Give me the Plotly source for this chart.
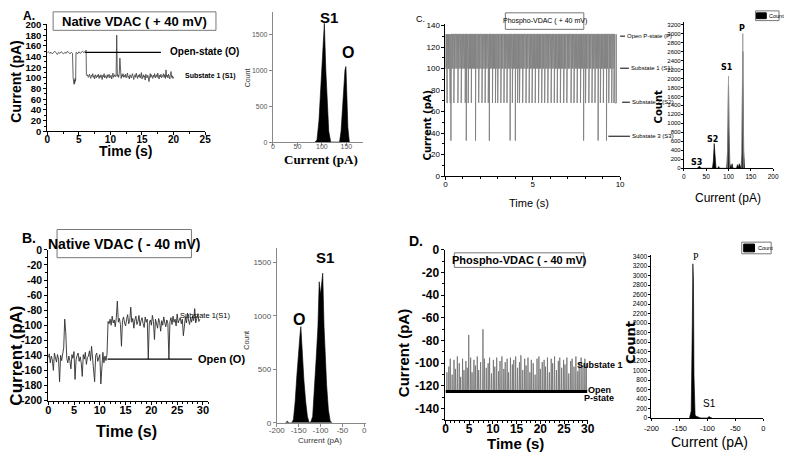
import plotly.graph_objects as go

W, H = 787, 458

# ---------------- Data ----------------
# Panel A: Native VDAC (+40 mV) current trace
A_time = [0.0,0.2,0.4,0.6,0.8,1.0,1.2,1.4,1.6,1.8,
          2.0,2.2,2.4,2.6,2.8,3.0,3.2,3.4,3.6,3.8,
          4.0,4.1,4.15,4.2,4.25,4.3,4.35,4.4,4.45,4.5,
          4.55,4.6,4.8,5.0,5.2,5.4,5.6,5.8,6.0,6.15,
          6.2,
          6.3,6.4,6.5,6.6,6.7,6.8,6.9,7.0,7.1,7.2,
          7.3,7.4,7.5,7.6,7.7,7.8,7.9,8.0,8.1,8.2,
          8.3,8.4,8.5,8.6,8.7,8.8,8.9,9.0,9.1,9.2,
          9.3,9.4,9.5,9.6,9.7,9.8,9.9,10.0,10.1,10.2,
          10.3,10.4,10.5,10.6,10.7,10.8,10.9,11.0,11.1,11.2,
          11.3,11.4,11.5,11.6,11.7,11.8,11.9,12.0,12.1,12.2,
          12.3,12.4,12.5,12.6,12.7,12.8,12.9,13.0,13.1,13.2,
          13.3,13.4,13.5,13.6,13.7,13.8,13.9,14.0,14.1,14.2,
          14.3,14.4,14.5,14.6,14.7,14.8,14.9,15.0,15.1,15.2,
          15.3,15.4,15.5,15.6,15.7,15.8,15.9,16.0,16.1,16.2,
          16.3,16.4,16.5,16.6,16.7,16.8,16.9,17.0,17.1,17.2,
          17.3,17.4,17.5,17.6,17.7,17.8,17.9,18.0,18.1,18.2,
          18.3,18.4,18.5,18.6,18.7,18.8,18.9,19.0,19.1,19.2,
          19.3,19.4,19.5,19.6,19.7,19.8,19.9,20.0]
A_current = [147,149,146,148,145,148,150,147,144,148,
             146,149,147,145,148,146,150,147,145,148,
             146,100,92,98,88,96,90,99,94,97,
             146,148,145,149,146,148,150,147,149,152,
             106,
             104,106,101,103,107,102,99,105,103,108,
             101,104,98,106,103,100,105,102,107,99,
             104,101,106,103,97,105,102,108,100,104,
             103,99,106,101,104,107,100,103,105,98,
             104,109,101,103,106,102,104,180,103,106,
             101,108,137,104,99,106,103,108,101,105,
             102,107,100,104,109,101,103,98,106,104,
             100,105,108,102,97,104,106,101,109,103,
             99,105,102,107,100,104,110,98,103,106,
             101,104,96,107,103,100,105,102,93,104,
             108,101,106,103,99,105,102,108,100,104,
             106,101,109,103,98,105,102,107,100,104,
             103,108,101,106,99,115,102,105,100,107,
             103,98,106,112,101,104,99,102]
A_open_level = 148

# Panel A histogram
A_hist_current = [86,90,94,98,101,103,105,108,111,114,118,136,139,142,145,147,149,151,153,156]
A_hist_count = [0,30,300,800,1250,1400,1650,1000,500,150,0,0,150,500,850,1000,1050,700,200,0]

# Panel B: Native VDAC (-40 mV)
B_time = [0.0,0.2,0.4,0.6,0.8,1.0,1.2,1.4,1.6,1.8,
          2.0,2.2,2.4,2.6,2.8,3.0,3.2,3.4,3.6,3.8,
          4.0,4.2,4.4,4.6,4.8,5.0,5.2,5.4,5.6,5.8,
          6.0,6.2,6.4,6.6,6.8,7.0,7.2,7.4,7.6,7.8,
          8.0,8.2,8.4,8.6,8.8,9.0,9.2,9.4,9.6,9.8,
          10.0,10.2,10.4,10.6,10.8,11.0,11.2,11.4,11.6,11.8,
          12.0,12.2,12.4,12.6,12.8,13.0,13.2,13.4,13.6,13.8,
          14.0,14.2,14.4,14.6,14.8,15.0,15.2,15.4,15.6,15.8,
          16.0,16.2,16.4,16.6,16.8,17.0,17.2,17.4,17.6,17.8,
          18.0,18.2,18.4,18.6,18.8,19.0,19.2,19.4,19.6,19.8,
          20.0,20.2,20.4,20.6,20.8,21.0,21.2,21.4,21.6,21.8,
          22.0,22.2,22.4,22.6,22.8,23.0,23.2,23.4,23.6,23.8,
          24.0,24.2,24.4,24.6,24.8,25.0,25.2,25.4,25.6,25.8,
          26.0,26.2,26.4,26.6,26.8,27.0,27.2,27.4,27.6,27.8,
          28.0,28.2,28.4,28.6,28.8,29.0,29.2,29.4]
B_current = [-143,-138,-150,-141,-146,-160,-137,-144,-149,-139,
             -145,-175,-140,-147,-136,-130,-92,-110,-144,-150,
             -141,-147,-158,-139,-144,-135,-172,-146,-140,-137,
             -148,-142,-150,-168,-139,-145,-136,-152,-143,-141,
             -134,-147,-128,-145,-150,-175,-140,-137,-148,-143,
             -139,-178,-146,-136,-150,-141,-147,-138,-95,-98,
             -92,-100,-88,-97,-93,-102,-90,-68,-96,-91,
             -99,-128,-94,-89,-97,-101,-92,-86,-98,-95,
             -76,-96,-91,-104,-93,-88,-99,-95,-87,-101,
             -94,-90,-98,-103,-89,-96,-92,-145,-97,-93,
             -100,-87,-95,-119,-92,-99,-104,-91,-96,-108,
             -94,-100,-89,-97,-102,-93,-98,-145,-95,-90,
             -99,-88,-96,-92,-101,-85,-97,-93,-90,-98,
             -92,-114,-95,-89,-97,-84,-93,-99,-90,-96,
             -88,-94,-78,-97,-91,-86,-95,-92]
B_open_level = -145

# Panel B histogram
B_hist_current = [-180,-176,-172,-166,-162,-158,-154,-150,-147,-145,
                  -142,-138,-134,-130,-126,-122,-118,-114,-110,-106,
                  -103,-100,-97,-95,-92,-89,-86,-82,-78,-74]
B_hist_count = [0,15,0,0,30,200,450,700,820,900,
                650,400,200,60,0,10,60,300,600,900,
                1320,1200,1300,1400,900,600,350,120,20,0]

# Panel C: Phospho-VDAC (+40 mV); closures from the open P-state
C_P_level = 132
C_dip_time = [0.02,0.08,0.14,0.19,0.26,0.31,0.37,0.42,0.48,0.53,
              0.60,0.66,0.71,0.77,0.84,0.90,0.95,1.01,1.08,1.13,
              1.19,1.24,1.30,1.37,1.43,1.48,1.55,1.61,1.66,1.72,
              1.79,1.85,1.90,1.96,2.03,2.09,2.14,2.21,2.27,2.32,
              2.38,2.45,2.51,2.56,2.62,2.69,2.75,2.80,2.86,2.93,
              2.99,3.04,3.11,3.17,3.22,3.28,3.35,3.41,3.46,3.52,
              3.59,3.65,3.70,3.76,3.83,3.89,3.94,4.00,4.07,4.13,
              4.18,4.24,4.31,4.37,4.42,4.48,4.55,4.61,4.66,4.72,
              4.79,4.85,4.90,4.96,5.03,5.09,5.14,5.20,5.27,5.33,
              5.38,5.44,5.51,5.57,5.62,5.68,5.75,5.81,5.86,5.92,
              5.99,6.05,6.10,6.16,6.23,6.29,6.34,6.40,6.47,6.53,
              6.58,6.64,6.71,6.77,6.82,6.88,6.95,7.01,7.06,7.12,
              7.19,7.25,7.30,7.36,7.43,7.49,7.54,7.60,7.67,7.73,
              7.78,7.84,7.91,7.97,8.02,8.08,8.15,8.21,8.26,8.32,
              8.39,8.45,8.50,8.56,8.63,8.69,8.74,8.80,8.87,8.93,
              8.98,9.04,9.11,9.17,9.22,9.28,9.35,9.41,9.46,9.52,
              9.59,9.65,9.71]
C_dip_level = [100,68,100,100,68,33,100,100,68,100,
               100,100,68,100,100,68,100,100,100,68,
               33,100,68,100,100,68,100,100,100,33,
               100,100,68,100,100,68,100,100,68,100,
               100,68,33,100,100,68,100,100,68,100,
               68,100,100,68,100,100,68,100,100,68,
               100,100,33,100,68,100,100,33,100,68,
               100,68,100,100,68,100,100,68,100,100,
               68,100,100,68,100,100,68,100,100,68,
               100,100,68,100,100,68,100,100,68,100,
               100,68,100,100,68,100,100,68,100,100,
               68,100,100,68,100,100,68,100,100,100,
               68,100,100,68,100,100,68,100,100,68,
               100,100,33,100,68,100,100,68,100,100,
               68,100,100,68,100,100,33,100,68,100,
               100,68,100,100,33,100,68,100,100,68,
               100,68,68]
C_dip_dur = [0.04,0.025,0.025,0.03,0.04,0.02,0.03,0.025,0.04,0.03,
             0.025,0.03,0.04,0.025,0.025,0.04,0.03,0.025,0.04,0.025,
             0.02,0.03,0.04,0.025,0.03,0.025,0.025,0.03,0.04,0.02,
             0.025,0.03,0.04,0.025,0.025,0.04,0.03,0.025,0.03,0.025,
             0.025,0.04,0.02,0.025,0.03,0.025,0.04,0.025,0.04,0.025,
             0.04,0.025,0.03,0.04,0.025,0.025,0.03,0.025,0.04,0.04,
             0.025,0.03,0.02,0.025,0.04,0.03,0.025,0.02,0.025,0.04,
             0.025,0.04,0.025,0.03,0.04,0.025,0.025,0.04,0.03,0.025,
             0.04,0.025,0.03,0.04,0.025,0.025,0.04,0.03,0.025,0.04,
             0.025,0.03,0.04,0.025,0.025,0.04,0.03,0.025,0.04,0.025,
             0.03,0.04,0.025,0.025,0.04,0.03,0.025,0.04,0.025,0.03,
             0.04,0.025,0.03,0.04,0.025,0.025,0.04,0.03,0.025,0.03,
             0.04,0.025,0.03,0.04,0.025,0.025,0.04,0.03,0.025,0.04,
             0.025,0.03,0.02,0.025,0.04,0.03,0.025,0.04,0.025,0.03,
             0.04,0.025,0.03,0.04,0.025,0.025,0.02,0.03,0.04,0.025,
             0.03,0.04,0.025,0.025,0.02,0.03,0.04,0.025,0.03,0.04,
             0.025,0.04,0.08]

# Panel C histogram
C_hist_current = [30,33,35,37,40,64,66,68,70,72,
                  76,78,80,96,98,100,101,103,106,108,
                  110,112,118,120,122,124,126,128,130,132,
                  134,136]
C_hist_count = [0,20,50,20,0,0,150,550,300,0,
                0,40,0,0,400,1850,900,100,0,100,
                0,0,0,80,0,100,60,0,300,2600,
                400,0]
C_env_current = [98,100,102,None,130,132,134]
C_env_count = [0,2050,0,None,0,3000,0]

# Panel D: Phospho-VDAC (-40 mV); openings to substate from the P-state
D_open_level = -125
D_time_end = 29.9
D_spike_time = [0.3,0.7,1.0,1.4,1.8,2.1,2.5,2.9,3.2,3.6,
                3.9,4.3,4.6,4.9,5.3,5.6,6.0,6.3,6.7,7.0,
                7.4,7.9,8.2,8.6,9.0,9.3,9.7,10.1,10.4,10.8,
                11.2,11.5,11.9,12.3,12.6,13.0,13.3,13.7,14.1,14.4,
                14.8,15.2,15.6,15.9,16.3,16.7,17.0,17.4,17.8,18.1,
                18.5,18.9,19.3,19.7,20.0,20.4,20.8,21.1,21.5,21.9,
                22.3,22.6,23.0,23.4,23.8,24.1,24.5,24.9,25.2,25.6,
                26.0,26.4,26.7,27.1,27.5,27.9,28.2,28.6,29.0,29.4,
                29.7]
D_spike_peak = [-108,-103,-96,-110,-97,-105,-94,-100,-112,-96,
                -106,-98,-104,-75,-95,-108,-97,-102,-94,-106,
                -99,-70,-96,-104,-100,-95,-109,-97,-103,-95,
                -107,-98,-94,-105,-99,-96,-108,-95,-101,-97,
                -94,-104,-99,-93,-106,-96,-102,-95,-108,-97,
                -100,-110,-96,-94,-105,-99,-97,-103,-95,-108,
                -96,-100,-94,-106,-98,-95,-104,-97,-101,-95,
                -109,-98,-96,-103,-94,-107,-99,-95,-102,-96,
                -100]

# Panel D histogram
D_hist_current = [-132,-129,-127,-126,-125,-124,-122,-119,-116,-112,-100,-97,-95,-92]
D_hist_count = [0,150,2000,3250,2900,900,60,30,20,0,0,30,15,0]

# Tick labels (hyphen minus as in the original)
B_y_ticks = [0,-20,-40,-60,-80,-100,-120,-140,-160,-180,-200]
B_y_labels = ["0","-20","-40","-60","-80","-100","-120","-140","-160","-180","-200"]
D_y_ticks = [0,-20,-40,-60,-80,-100,-120,-140]
D_y_labels = ["0","-20","-40","-60","-80","-100","-120","-140"]
neg_hist_ticks = [-200,-150,-100,-50,0]
neg_hist_labels = ["-200","-150","-100","-50","0"]

# ---------------- Helpers ----------------
def px(x):
    return x / W

def py(y):
    return 1 - y / H

SANS = "Liberation Sans, Arial"
NARROW = "Liberation Sans Narrow, Arial Narrow, Liberation Sans"
SERIF = "Liberation Serif, Times New Roman"
WIDE = "DejaVu Sans, Verdana"

def axis(x0, x1, rng, dtick, anchor, fsize, family=SANS, weight="normal",
         lc="black", tc="black", minor=None, ticklen=3, vertical=False,
         standoff=0, tickvals=None, ticktext=None):
    dom = [1 - x1 / H, 1 - x0 / H] if vertical else [x0 / W, x1 / W]
    d = dict(domain=dom, range=rng, dtick=dtick, tick0=0, anchor=anchor,
             showline=True, linecolor=lc, linewidth=1, ticks="outside",
             ticklen=ticklen, tickcolor=lc, tickwidth=1, showgrid=False,
             zeroline=False, fixedrange=True, ticklabelstandoff=standoff,
             tickfont=dict(family=family, size=fsize, color=tc, weight=weight))
    if tickvals is not None:
        d["tickmode"] = "array"
        d["tickvals"] = tickvals
        d["ticktext"] = ticktext
    if minor:
        d["minor"] = dict(dtick=minor, tick0=0, ticks="outside", ticklen=max(1, ticklen - 1),
                          tickcolor=lc, showgrid=False)
    return d

fig = go.Figure()

# ---- traces ----
fig.add_trace(go.Scatter(x=A_time, y=A_current, mode="lines",
                         line=dict(color="#3a3a3a", width=0.8), xaxis="x", yaxis="y"))
fig.add_trace(go.Scatter(x=A_hist_current, y=A_hist_count, mode="lines", fill="tozeroy",
                         fillcolor="black", line=dict(color="black", width=0.6),
                         xaxis="x2", yaxis="y2"))

C_x, C_y = [0], [100]
for t, lev, dur in zip(C_dip_time, C_dip_level, C_dip_dur):
    C_x += [t, t, t + dur, t + dur]
    C_y += [C_P_level, lev, lev, C_P_level]
fig.add_trace(go.Scatter(x=C_x, y=C_y, mode="lines",
                         line=dict(color="#808080", width=0.9), xaxis="x3", yaxis="y3"))
fig.add_trace(go.Scatter(x=C_hist_current, y=C_hist_count, mode="lines", fill="tozeroy",
                         fillcolor="black", line=dict(color="black", width=0.6),
                         xaxis="x4", yaxis="y4"))
fig.add_trace(go.Scatter(x=C_env_current, y=C_env_count, mode="lines",
                         line=dict(color="#999999", width=0.8), xaxis="x4", yaxis="y4"))
fig.add_trace(go.Scatter(x=B_time, y=B_current, mode="lines",
                         line=dict(color="#2e2e2e", width=0.9), xaxis="x5", yaxis="y5"))
fig.add_trace(go.Scatter(x=B_hist_current, y=B_hist_count, mode="lines", fill="tozeroy",
                         fillcolor="black", line=dict(color="black", width=0.6),
                         xaxis="x6", yaxis="y6"))

D_x, D_y = [], []
for t, h in zip(D_spike_time, D_spike_peak):
    D_x += [t - 0.07, t, t + 0.07]
    D_y += [D_open_level, h, D_open_level]
fig.add_trace(go.Scatter(x=D_x, y=D_y, mode="lines",
                         line=dict(color="#6e6e6e", width=0.8), xaxis="x7", yaxis="y7"))
fig.add_trace(go.Scatter(x=[0, D_time_end], y=[D_open_level, D_open_level], mode="lines",
                         line=dict(color="black", width=3), xaxis="x7", yaxis="y7"))
fig.add_trace(go.Scatter(x=D_hist_current, y=D_hist_count, mode="lines", fill="tozeroy",
                         fillcolor="black", line=dict(color="black", width=0.6),
                         xaxis="x8", yaxis="y8"))

# ---- axes ----
layout = dict(
    width=W, height=H, margin=dict(l=0, r=0, t=0, b=0),
    paper_bgcolor="white", plot_bgcolor="white", showlegend=False,
    xaxis=axis(40, 201, [0, 25], 5, "y", 10, weight="bold", minor=2.5, standoff=-4),
    yaxis=axis(18, 128, [0, 200], 20, "x", 9.5, weight="bold", minor=10, vertical=True),
    xaxis2=axis(270, 362, [0, 184], 50, "y2", 7, lc="#888", tc="#555", standoff=-5),
    yaxis2=axis(5, 139, [0, 1810], 500, "x2", 7, lc="#888", tc="#555", vertical=True),
    xaxis3=axis(446, 624, [0, 10], 5, "y3", 8, family=NARROW, minor=1, standoff=-3),
    yaxis3=axis(18, 174, [0, 141], 20, "x3", 8, family=NARROW, minor=10, vertical=True),
    xaxis4=axis(689, 780, [0, 200], 50, "y4", 6.5, family=NARROW, ticklen=2),
    yaxis4=axis(15, 166, [0, 3265], 200, "x4", 6, family=NARROW, ticklen=2, vertical=True,
                standoff=-1),
    xaxis5=axis(41, 204, [0, 31], 5, "y5", 11, weight="bold", minor=1, standoff=-4),
    yaxis5=axis(250, 405, [-200, 0], 20, "x5", 10.5, family=NARROW, weight="bold", minor=10,
                vertical=True, tickvals=B_y_ticks, ticktext=B_y_labels),
    xaxis6=axis(274, 365, [-200, 4], 50, "y6", 8, lc="#888", tc="#555", standoff=-3,
                tickvals=neg_hist_ticks, ticktext=neg_hist_labels),
    yaxis6=axis(248, 428, [0, 1636], 500, "x6", 8, lc="#888", tc="#555", vertical=True),
    xaxis7=axis(446, 591, [0, 30], 5, "y7", 12, family=NARROW, weight="bold", minor=1, standoff=-5),
    yaxis7=axis(250, 425, [-150, 0], 20, "x7", 12, family=NARROW, weight="bold", minor=10,
                vertical=True, tickvals=D_y_ticks, ticktext=D_y_labels),
    xaxis8=axis(656, 770, [-200, 0], 50, "y8", 7.5, family=NARROW, ticklen=2, standoff=1,
                tickvals=neg_hist_ticks, ticktext=neg_hist_labels),
    yaxis8=axis(255, 423, [0, 3441], 200, "x8", 6.5, family=NARROW, ticklen=2, vertical=True),
)

anns = []
def ann(text, x, y, size, family=SANS, weight="normal", color="black",
        xanchor="center", angle=0):
    anns.append(dict(text=text, x=px(x), y=py(y), xref="paper", yref="paper",
                     showarrow=False, xanchor=xanchor, yanchor="middle", textangle=angle,
                     font=dict(family=family, size=size, color=color, weight=weight)))

shapes = []
def rect(x0, y0, x1, y1, color="#777", fill=None, width=1):
    shapes.append(dict(type="rect", xref="paper", yref="paper", x0=px(x0), x1=px(x1),
                       y0=py(y1), y1=py(y0), line=dict(color=color, width=width),
                       fillcolor=fill if fill else "rgba(0,0,0,0)"))

def pline(x0, y0, x1, y1, width=1, color="black"):
    shapes.append(dict(type="line", xref="paper", yref="paper", x0=px(x0), x1=px(x1),
                       y0=py(y0), y1=py(y1), line=dict(color=color, width=width)))

# Panel A
ann("A.", 21, 9, 12, weight="bold")
rect(46, 5, 212, 24)
ann("Native VDAC ( + 40 mV)", 129, 15, 13, weight="bold")
ann("Current (pA)", 8, 77, 14, weight="bold", angle=-90)
ann("Time (s)", 120, 148, 14, weight="bold")
shapes.append(dict(type="line", xref="x", yref="y", x0=6, x1=18, y0=A_open_level, y1=A_open_level,
                   line=dict(color="black", width=1.3)))
ann("Open-state (O)", 163, 46, 10, weight="bold", xanchor="left")
ann("Substate 1 (S1)", 178, 71, 7, weight="bold", xanchor="left")
ann("S1", 327, 11, 15, weight="bold")
ann("O", 347, 47, 16, weight="bold")
ann("Count", 245, 73, 7, angle=-90, color="#333")
ann("Current (pA)", 319, 157, 13, family=SERIF, weight="bold")

# Panel C
ann("C.", 421, 12, 9, family=NARROW)
rect(507, 6, 587, 23)
ann("Phospho-VDAC ( + 40 mV)", 547, 14, 7, family=NARROW)
ann("Current (pA)", 428, 121, 10, family=WIDE, weight="bold", angle=-90)
ann("Time (s)", 531, 202, 11, family=NARROW)
pline(624, 30, 629, 30)
ann("Open P-state (P)", 629, 30, 6, family=NARROW, xanchor="left")
pline(624, 63, 633, 63)
ann("Substate 1 (S1)", 633, 63, 6, family=NARROW, xanchor="left")
pline(626, 98, 634, 98)
ann("Substate 2 (S2)", 634, 98, 6, family=NARROW, xanchor="left")
pline(612, 133, 634, 133)
ann("Substate 3 (S3)", 634, 133, 6, family=NARROW, xanchor="left")
ann("S3", 702, 160, 8, family=WIDE, weight="bold")
ann("S2", 718, 136, 8, family=WIDE, weight="bold")
ann("S1", 733, 62, 8, family=WIDE, weight="bold")
ann("P", 748, 22, 8, family=WIDE, weight="bold")
ann("Count", 663, 103, 10, family=WIDE, weight="bold", angle=-90)
ann("Current (pA)", 734, 197, 12, family=NARROW)
rect(762, 4, 786, 14, color="#777")
rect(763, 6, 773, 12, color="black", fill="black")
ann("Count", 774, 9, 5.5, family=NARROW, xanchor="left")

# Panel B
ann("B.", 21, 238, 14, weight="bold")
rect(50, 229, 187, 258)
ann("Native VDAC ( - 40 mV)", 118, 244, 14, weight="bold")
ann("Current (pA)", 9, 359, 17, weight="bold", angle=-90)
ann("Time (s)", 121, 437, 16, weight="bold")
shapes.append(dict(type="line", xref="x5", yref="y5", x0=11.5, x1=27.9, y0=B_open_level,
                   y1=B_open_level, line=dict(color="black", width=1.3)))
ann("Substate 1(S1)", 173, 318, 7.5, xanchor="left")
ann("Open (O)", 192, 362, 11, weight="bold", xanchor="left")
ann("O", 297, 322, 16, weight="bold")
ann("S1", 323, 258, 15, weight="bold")
ann("Count", 243, 343, 7, angle=-90, color="#333")
ann("Current (pA)", 318, 446, 8, color="#333")

# Panel D
ann("D.", 416, 241, 14, family=NARROW, weight="bold")
rect(455, 253, 587, 268)
ann("Phospho-VDAC ( - 40 mV)", 521, 260, 11, family=NARROW, weight="bold")
ann("Current (pA)", 404, 356, 15, weight="bold", angle=-90)
ann("Time (s)", 517, 449, 15, family=NARROW, weight="bold")
ann("Substate 1", 604, 368, 9, family=NARROW, weight="bold")
ann("Open", 603, 394, 9, family=NARROW, weight="bold")
ann("P-state", 602, 402, 9, family=NARROW, weight="bold")
ann("P", 701, 257, 10, family=SERIF)
ann("S1", 715, 408, 10, family=NARROW)
ann("Count", 634, 345, 13, family=WIDE, weight="bold", angle=-90)
ann("Current (pA)", 715, 448, 14, family=NARROW)
rect(748, 242, 778, 254, color="#777")
rect(750, 244, 761, 252, color="black", fill="black")
ann("Count", 763, 248, 5.5, family=NARROW, xanchor="left")

layout["annotations"] = anns
layout["shapes"] = shapes
fig.update_layout(**layout)

fig.write_html("out.html", config={"displayModeBar": False},
               post_script="document.body.style.margin='0';document.body.style.overflow='hidden';")
